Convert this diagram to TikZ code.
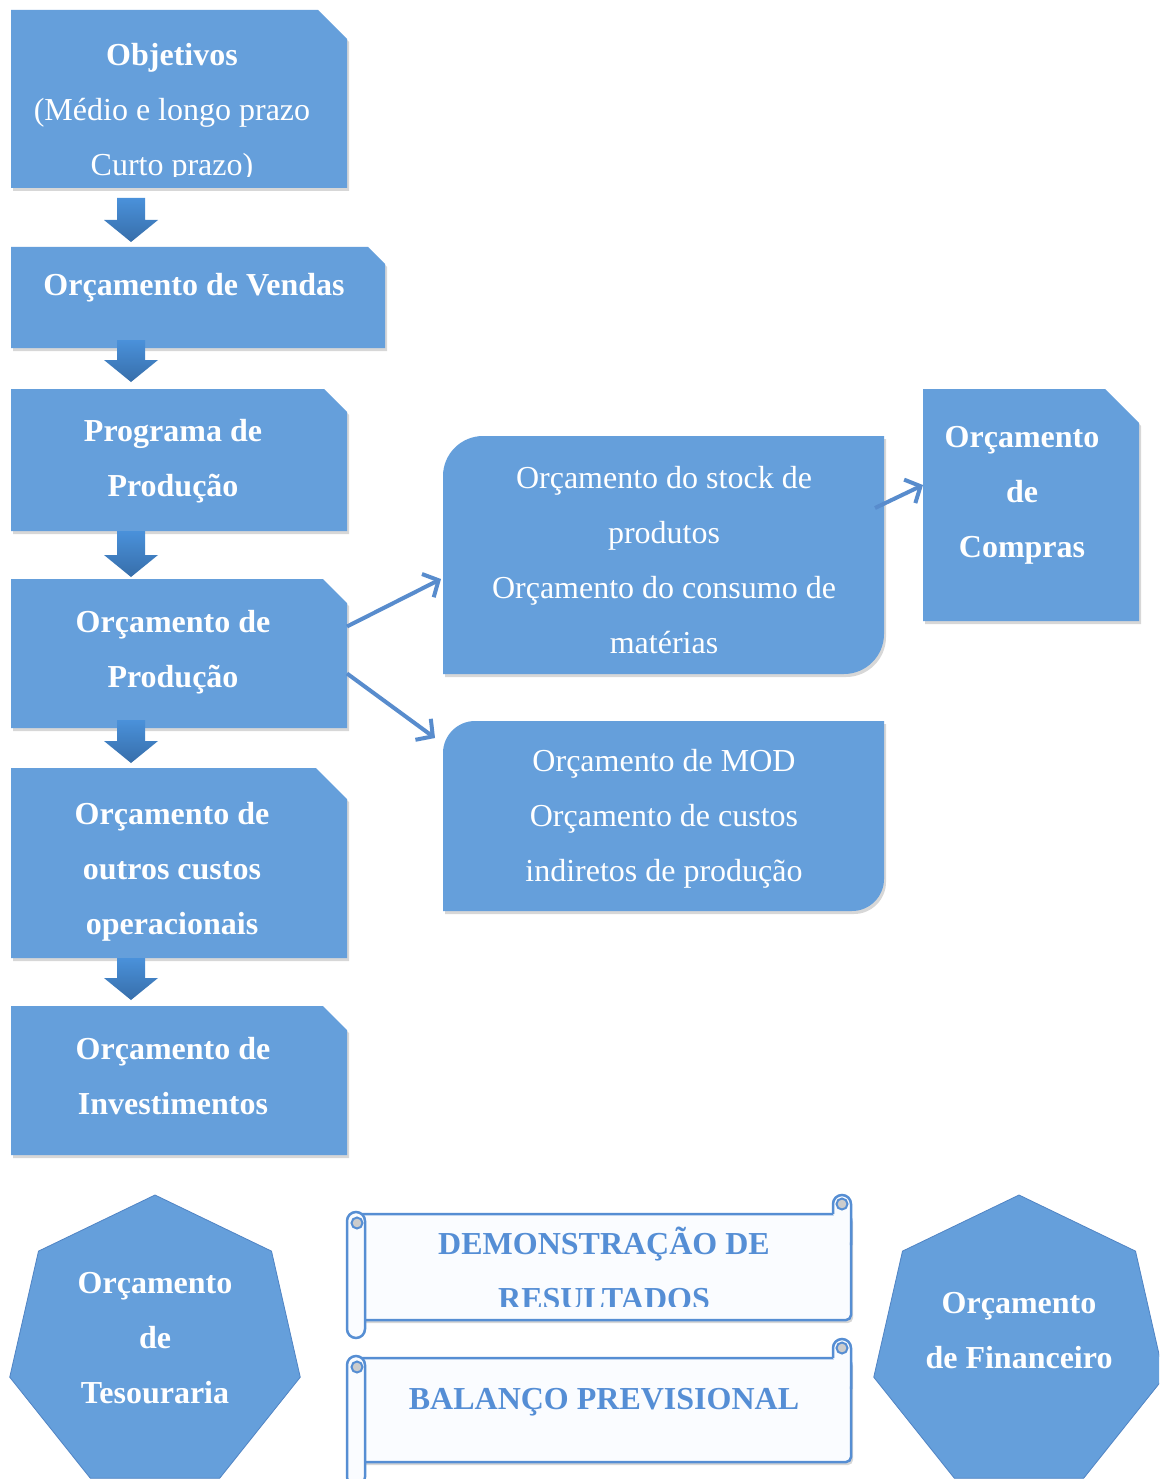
\documentclass[tikz,border=0pt]{standalone}
\usepackage{fontspec}
\setmainfont{Liberation Serif}
\usetikzlibrary{arrows.meta,calc,shadows}
\definecolor{boxblue}{RGB}{101,159,219}
\definecolor{arrtop}{RGB}{74,145,218}
\definecolor{arrbot}{RGB}{55,110,170}
\definecolor{linkblue}{RGB}{88,140,205}
\definecolor{scrollline}{RGB}{86,142,211}
\definecolor{scrollfill}{RGB}{250,252,255}
\definecolor{scrolltext}{RGB}{85,142,213}
\definecolor{heptline}{RGB}{80,132,196}
\tikzset{
  frame/.style={inner sep=0pt, outer sep=0pt, draw=none},
  boxfill/.style={fill=boxblue, drop shadow={shadow xshift=2pt, shadow yshift=-3pt, opacity=0.22, fill=black!70}},
  lbl/.style={inner sep=0pt, anchor=north, align=center, text=white, font=\fontsize{32}{55}\selectfont},
  blbl/.style={lbl, font=\fontsize{32}{55}\selectfont\bfseries},
  slbl/.style={blbl, text=scrolltext},
  link/.style={draw=linkblue, line width=4pt, -{Straight Barb[length=12pt,width=26pt]}},
  scroll/.style={draw=scrollline, line width=2.5pt, fill=scrollfill},
  curl/.style={draw=scrollline, line width=2pt, fill=black!20},
  hept/.style={fill=boxblue, draw=heptline, line width=0.8pt},
}
\newcommand\chambox[2]{\fill[boxfill] (#1.south west) -- (#1.north west) -- ([xshift=-#2]#1.north east) -- ([yshift=-#2]#1.north east) -- (#1.south east) -- cycle;}
\newcommand\roundbox[2]{\fill[boxfill] ([yshift=-#2]#1.north west) .. controls ([yshift={-0.45*#2}]#1.north west) and ([xshift={0.45*#2}]#1.north west) .. ([xshift=#2]#1.north west) -- (#1.north east) -- ([yshift=#2]#1.south east) .. controls ([yshift={0.45*#2}]#1.south east) and ([xshift={-0.45*#2}]#1.south east) .. ([xshift=-#2]#1.south east) -- (#1.south west) -- cycle;}
\newcommand\fatarrow[4]{\shade[top color=arrtop, bottom color=arrbot] let \p1=(#1.south west), \p2=(#2.north west) in
  ({\x1+106pt},{\y1-(#3)}) -- ({\x1+134pt},{\y1-(#3)}) -- ({\x1+134pt},{\y2+(#4)+22pt}) -- ({\x1+147pt},{\y2+(#4)+22pt}) -- ({\x1+120pt},{\y2+(#4)}) -- ({\x1+93pt},{\y2+(#4)+22pt}) -- ({\x1+106pt},{\y2+(#4)+22pt}) -- cycle;}
\begin{document}
\begin{tikzpicture}[x=1pt,y=-1pt]
\useasboundingbox (0,0) rectangle (1159,1479);
\clip (0,0) rectangle (1159,1479);
\fill[white] (0,0) rectangle (1159,1479);

% frames
\node[frame, minimum width=336pt, minimum height=178pt] (b1) at (179,99) {};
\node[frame, minimum width=374pt, minimum height=101pt] (b2) at (198,297.5) {};
\node[frame, minimum width=336pt, minimum height=142pt] (b3) at (179,460) {};
\node[frame, minimum width=336pt, minimum height=149pt] (b4) at (179,653.5) {};
\node[frame, minimum width=336pt, minimum height=190pt] (b5) at (179,863) {};
\node[frame, minimum width=336pt, minimum height=149pt] (b6) at (179,1080.5) {};
\node[frame, minimum width=441pt, minimum height=238pt] (A) at (663.5,555) {};
\node[frame, minimum width=441pt, minimum height=190pt] (B) at (663.5,816) {};
\node[frame, minimum width=216pt, minimum height=232pt] (C) at (1031,505) {};

\chambox{b1}{29pt}
\chambox{b2}{17pt}
\chambox{b3}{23pt}
\chambox{b4}{24pt}
\chambox{b5}{31pt}
\chambox{b6}{24pt}
\chambox{C}{34pt}
\roundbox{A}{40pt}
\roundbox{B}{32pt}

% fat arrows
\fatarrow{b1}{b2}{10pt}{5pt}
\fatarrow{b2}{b3}{-8pt}{7pt}
\fatarrow{b3}{b4}{0pt}{2pt}
\fatarrow{b4}{b5}{-8pt}{5pt}
\fatarrow{b5}{b6}{0pt}{6pt}

% thin arrows
\draw[link] ([yshift=27pt]b4.east) -- ([xshift=-2pt,yshift=-24pt]A.west);
\draw[link] ([yshift=-20pt]b4.east) -- ([xshift=-8pt,yshift=-17pt]B.north west);
\draw[link] ([xshift=-9pt,yshift=47pt]A.east) -- ([yshift=20pt]C.west);

% texts
\begin{scope}
\clip (0,0) rectangle (1159,177);
\node[lbl] (t1) at (172,26.5) {\strut{\bfseries Objetivos}\\(Médio e longo prazo\\Curto prazo)};
\end{scope}
\node[blbl] (t2) at (194,256.5) {\strut Orçamento de Vendas};
\node[blbl] (t3) at (173,402.5) {\strut Programa de\\Produção};
\node[blbl] (t4) at (173,593.5) {\strut Orçamento de\\Produção};
\node[blbl] (t5) at (172,785.5) {\strut Orçamento de\\outros custos\\operacionais};
\node[blbl] (t6) at (173,1020.5) {\strut Orçamento de\\Investimentos};
\node[lbl] (tA) at (664,449.5) {\strut Orçamento do stock de\\produtos\\Orçamento do consumo de\\matérias};
\node[lbl] (tB) at (664,732.5) {\strut Orçamento de MOD\\Orçamento de custos\\indiretos de produção};
\node[blbl] (tC) at (1022,408.5) {\strut Orçamento\\de\\Compras};

% heptagons
\coordinate (h1) at (155,1344);
\coordinate (h2) at (1019,1344);
\filldraw[hept] (h1) +(-90:149) -- +(-38.57:149) -- +(12.86:149) -- +(64.29:149) -- +(115.71:149) -- +(167.14:149) -- +(218.57:149) -- cycle;
\filldraw[hept] (h2) +(-90:149) -- +(-38.57:149) -- +(12.86:149) -- +(64.29:149) -- +(115.71:149) -- +(167.14:149) -- +(218.57:149) -- cycle;
\node[blbl] (th1) at (155,1254.5) {\strut Orçamento\\de\\Tesouraria};
\node[blbl] (th2) at (1019,1274.5) {\strut Orçamento\\de Financeiro};

% scroll 1
\draw[scroll, rounded corners=5pt, drop shadow={shadow xshift=2pt, shadow yshift=-3pt, opacity=0.22, fill=black!70}] (356,1214) -- (851,1214) -- (851,1320) -- (356,1320) -- cycle;
\draw[scroll, rounded corners=9pt] (833,1214) -- (833,1195) -- (851,1195) -- (851,1245);
\draw[curl] (842,1204) circle[radius=5.5];
\draw[scroll, rounded corners=9pt] (347,1212) rectangle (365,1338);
\draw[curl] (357,1223) circle[radius=5.5];
% scroll 2
\draw[scroll, rounded corners=5pt, drop shadow={shadow xshift=2pt, shadow yshift=-3pt, opacity=0.22, fill=black!70}] (356,1358) -- (851,1358) -- (851,1462) -- (356,1462) -- cycle;
\draw[scroll, rounded corners=9pt] (833,1358) -- (833,1339) -- (851,1339) -- (851,1389);
\draw[curl] (842,1348) circle[radius=5.5];
\draw[scroll, rounded corners=9pt] (347,1356) rectangle (365,1486);
\draw[curl] (357,1367) circle[radius=5.5];

\begin{scope}
\clip (0,1200) rectangle (1159,1306);
\node[slbl] (ts1) at (604,1215.5) {\strut DEMONSTRAÇÃO DE\\RESULTADOS};
\end{scope}
\node[slbl] (ts2) at (604,1370.5) {\strut BALANÇO PREVISIONAL};
\end{tikzpicture}
\end{document}
